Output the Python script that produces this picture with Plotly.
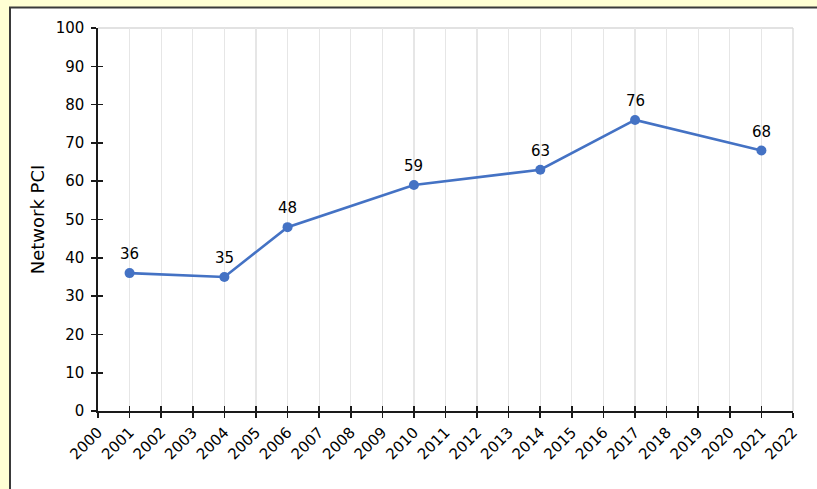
import plotly.graph_objects as go

years = [2001, 2004, 2006, 2010, 2014, 2017, 2021]
pci = [36, 35, 48, 59, 63, 76, 68]
x_ticks = list(range(2000, 2023))
y_ticks = list(range(0, 101, 10))
y_title = "Network PCI"

W, H = 817, 489
L, R, T, B = 98, 24, 28, 78
pw, ph = W - L - R, H - T - B

def px(x):
    return (x - L) / pw

def py(y):
    return (H - B - y) / ph

font = "DejaVu Sans, Verdana, sans-serif"
blue = "#4472C4"

fig = go.Figure()
fig.add_trace(go.Scatter(
    x=years, y=pci, mode="lines+markers",
    line=dict(color=blue, width=2.6),
    marker=dict(color=blue, size=10),
    cliponaxis=False, showlegend=False, hoverinfo="skip",
))
# invisible trace for overlay axes (inside ticks -> cross ticks)
fig.add_trace(go.Scatter(x=[2000], y=[0], xaxis="x2", yaxis="y2",
                         mode="markers", marker=dict(opacity=0),
                         showlegend=False, hoverinfo="skip"))

annotations = [dict(x=xv, y=yv, text=str(yv), showarrow=False, yshift=19,
                    font=dict(family=font, size=15, color="#000"))
               for xv, yv in zip(years, pci)]

axis_common = dict(showline=True, linecolor="#1a1a1a", linewidth=1.6,
                   ticks="outside", ticklen=5, tickwidth=1.6, tickcolor="#1a1a1a",
                   tickfont=dict(family=font, size=15, color="#000"),
                   zeroline=False)

fig.update_layout(
    width=W, height=H,
    margin=dict(l=L, r=R, t=T, b=B),
    paper_bgcolor="#FFFFD4",
    plot_bgcolor="rgba(0,0,0,0)",
    font=dict(family=font, size=15, color="#000"),
    annotations=annotations,
    xaxis=dict(range=[2000, 2022], tickmode="array", tickvals=x_ticks,
               ticktext=[str(v) for v in x_ticks], tickangle=-45,
               showgrid=True, gridcolor="#E6E6E6", gridwidth=1.2, **axis_common),
    yaxis=dict(range=[0, 100], tickmode="array", tickvals=y_ticks,
               showgrid=False, ticklabelstandoff=4,
               title=dict(text=y_title, standoff=6,
                          font=dict(family=font, size=18, color="#000")),
               **axis_common),
    xaxis2=dict(overlaying="x", range=[2000, 2022], tickmode="array", tickvals=x_ticks,
                showticklabels=False, ticks="inside", ticklen=5, tickwidth=1.6,
                tickcolor="#1a1a1a", showgrid=False, showline=False, zeroline=False,
                anchor="y2", side="bottom"),
    yaxis2=dict(overlaying="y", range=[0, 100], tickmode="array", tickvals=y_ticks,
                showticklabels=False, ticks="inside", ticklen=5, tickwidth=1.6,
                tickcolor="#1a1a1a", showgrid=False, showline=False, zeroline=False,
                anchor="x2", side="left"),
    shapes=[
        dict(type="rect", xref="paper", yref="paper", layer="below",
             x0=px(10), x1=px(840), y0=py(520), y1=py(7.5),
             fillcolor="#FFFFFF", line=dict(color="#3a3a3a", width=2)),
        dict(type="line", xref="paper", yref="paper", layer="below",
             x0=0, x1=1, y0=1, y1=1, line=dict(color="#D9D9D9", width=1.3)),
        dict(type="line", xref="paper", yref="paper", layer="below",
             x0=1, x1=1, y0=0, y1=1, line=dict(color="#D9D9D9", width=1.3)),
    ],
)

fig.write_html("out.html",
               config={"displayModeBar": False, "staticPlot": True},
               post_script="document.body.style.margin='0px';"
                           "document.body.style.overflow='hidden';")
